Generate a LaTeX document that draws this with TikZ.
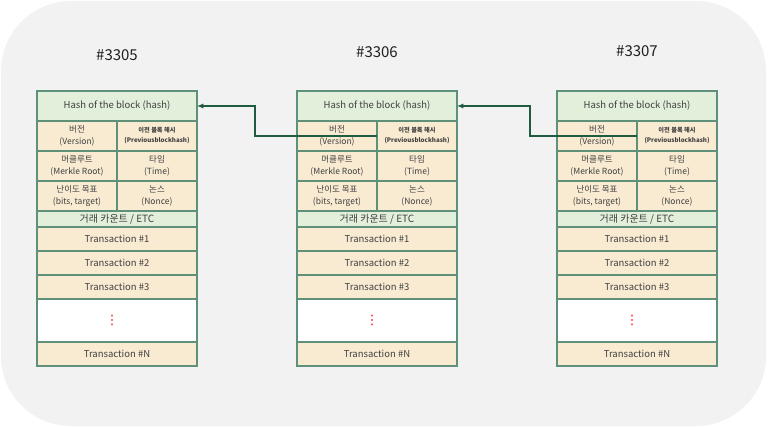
\documentclass[tikz,border=0pt]{standalone}
\usepackage{fontspec}
\setmainfont{Noto Sans CJK KR}
\newfontfamily\symfont{DejaVu Sans}
\usetikzlibrary{arrows.meta,positioning}
\definecolor{pagebg}{HTML}{F2F2F2}
\definecolor{hashfill}{HTML}{E2EFDA}
\definecolor{fieldfill}{HTML}{F9EBD2}
\definecolor{cellline}{HTML}{5F9079}
\definecolor{linkgreen}{HTML}{1F5C3F}
\definecolor{celltext}{HTML}{404040}
\tikzset{
  cell/.style={
    draw=cellline,
    line width=1.1pt,
    outer sep=0pt,
    inner sep=1pt,
    align=center,
    text=celltext,
    anchor=north west
  },
  hashcell/.style={cell, fill=hashfill, minimum width=160pt, minimum height=30pt, font=\fontsize{9.5}{11}\selectfont},
  fieldcell/.style={cell, fill=fieldfill, minimum width=80pt, minimum height=30pt, font=\fontsize{8.5}{12.5}\selectfont},
  prevcell/.style={fieldcell, font=\bfseries\fontsize{6.2}{10}\selectfont},
  countcell/.style={cell, fill=hashfill, minimum width=160pt, minimum height=16pt, font=\fontsize{10}{11}\selectfont},
  txcell/.style={cell, fill=fieldfill, minimum width=160pt, minimum height=24pt, font=\fontsize{9.5}{11}\selectfont},
  gapcell/.style={cell, fill=white, minimum width=160pt, minimum height=43pt},
  gapdots/.style={text=red, font=\symfont\fontsize{13}{13}\selectfont, inner sep=0pt},
  blocktitle/.style={font=\fontsize{15}{17}\selectfont, text=black!88},
  chainlink/.style={line width=1.5pt, draw=linkgreen, -{Latex[length=2.2mm,width=1.8mm]}}
}
\newcommand{\chainblock}[4]{%
  % #1 name prefix, #2 left edge, #3 block height, #4 title y
  \node[blocktitle] (#1title) at (#2+80,#4) {\##3};
  \node[hashcell] (#1hash) at (#2,91) {Hash of the block (hash)};
  \node[fieldcell] (#1ver) at (#1hash.south west) {버전\\(Version)};
  \node[prevcell] (#1prev) at (#1ver.north east) {이전 블록 해시\\(Previousblockhash)};
  \node[fieldcell] (#1merkle) at (#1ver.south west) {머클루트\\(Merkle Root)};
  \node[fieldcell] (#1time) at (#1merkle.north east) {타임\\(Time)};
  \node[fieldcell] (#1bits) at (#1merkle.south west) {난이도 목표\\(bits, target)};
  \node[fieldcell] (#1nonce) at (#1bits.north east) {논스\\(Nonce)};
  \node[countcell] (#1count) at (#1bits.south west) {거래 카운트 / ETC};
  \node[txcell] (#1txa) at (#1count.south west) {Transaction \#1};
  \node[txcell] (#1txb) at (#1txa.south west) {Transaction \#2};
  \node[txcell] (#1txc) at (#1txb.south west) {Transaction \#3};
  \node[gapcell] (#1gap) at (#1txc.south west) {};
  \node[gapdots] (#1dots) at (#2+75,320) {⋮};
  \node[txcell] (#1txn) at (#1gap.south west) {Transaction \#N};
}

\begin{document}
\begin{tikzpicture}[x=1pt,y=-1pt]
\useasboundingbox (0,0) rectangle (768,427);
\fill[white] (0,0) rectangle (768,427);
\fill[pagebg, rounded corners=70pt] (1,1) rectangle (766,426);

\chainblock{bA}{37}{3305}{55}
\chainblock{bB}{297}{3306}{52}
\chainblock{bC}{557}{3307}{51}

% previous-hash links
\draw[chainlink] (bBprev.west) -- ++(-122,0) |- (bAhash.east);
\draw[chainlink] (bCprev.west) -- ++(-107,0) |- (bBhash.east);

\end{tikzpicture}
\end{document}
